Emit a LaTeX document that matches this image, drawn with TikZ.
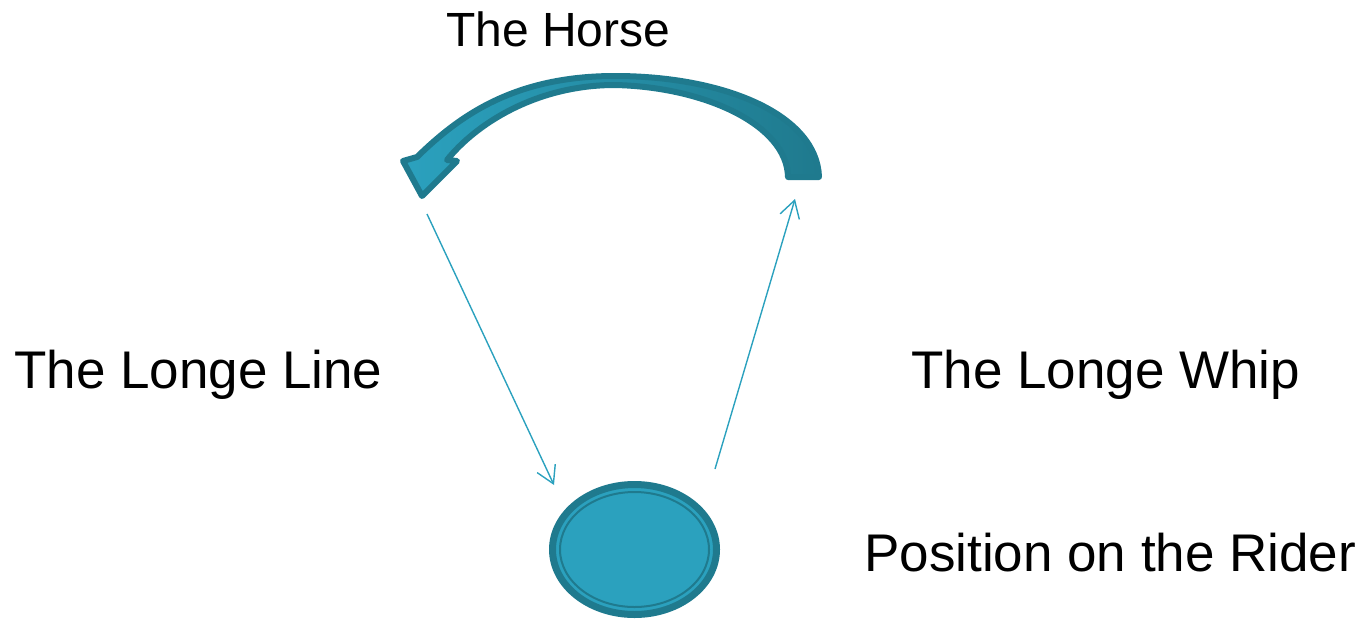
\documentclass[tikz,border=0pt]{standalone}
\usepackage{fontspec}
\setmainfont{Liberation Sans}
\usetikzlibrary{arrows.meta, positioning, shapes.geometric}
\definecolor{horsedark}{RGB}{31,122,142}
\definecolor{horselight}{RGB}{43,161,190}

\begin{document}
\begin{tikzpicture}[x=1pt, y=-1pt,
    txt/.style={anchor=base west, inner sep=0pt, font=\fontsize{53}{60}\selectfont},
    link/.style={-{Straight Barb[length=17pt, width=20pt]}, line width=1.4pt, horselight},
    ring/.style={ellipse, draw=horsedark, line width=7pt, fill=horselight,
                 minimum width=164pt, minimum height=130pt, inner sep=0pt}
]
\useasboundingbox (0,0) rectangle (1363,619);
% labels
\node[txt, font=\fontsize{48}{56}\selectfont] (horse) at (446,46) {The Horse};
\node[txt] (lline) at (14,388) {The Longe Line};
\node[txt] (whip)  at (911,388) {The Longe Whip};
\node[txt] (pos)   at (864,571) {Position on the Rider};
% rider
\node[ring] (rider) at (634.5,549.5) {};
\draw[horsedark, line width=2pt] (rider.center) ellipse [x radius=74.5, y radius=57.5];
% curved arrow
\draw[horsedark, line width=6pt, line join=round,
      left color=horselight, middle color=horsedark!85!horselight, right color=horsedark]
  (819,177) .. controls (817,115) and (725,76) .. (615,76)
  .. controls (515,76) and (460,115) .. (417,157)
  -- (403,161) -- (422,196) -- (457,161) -- (447,160)
  .. controls (475,125) and (535,85) .. (615,85)
  .. controls (705,87) and (787,125) .. (788,177) -- cycle;
\coordinate (headTip) at (427,214);
\coordinate (lineEnd) at (554,485);
\coordinate (whipStart) at (715,469);
\coordinate (tailEnd) at (795,199);
\draw[link] (headTip) -- (lineEnd);
\draw[link] (whipStart) -- (tailEnd);
\end{tikzpicture}
\end{document}
